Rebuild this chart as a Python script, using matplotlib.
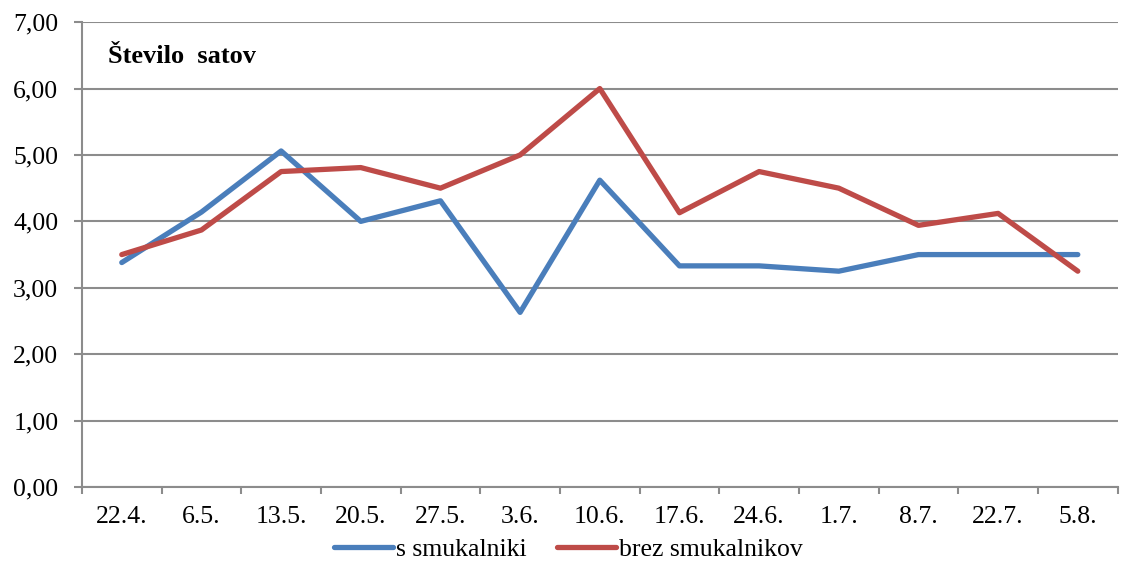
import matplotlib
matplotlib.use("Agg")
import matplotlib.pyplot as plt
from matplotlib.ticker import FixedLocator, FuncFormatter

dates = ["22.4.", "6.5.", "13.5.", "20.5.", "27.5.", "3.6.", "10.6.",
         "17.6.", "24.6.", "1.7.", "8.7.", "22.7.", "5.8."]
s_smukalniki = [3.38, 4.14, 5.06, 4.00, 4.31, 2.63, 4.62,
                3.33, 3.33, 3.25, 3.50, 3.50, 3.50]
brez_smukalnikov = [3.50, 3.87, 4.75, 4.81, 4.50, 5.00, 6.00,
                    4.13, 4.75, 4.50, 3.94, 4.12, 3.25]

plt.rcParams["font.family"] = ["Liberation Serif", "DejaVu Serif"]

fig = plt.figure(figsize=(11.21, 5.67), dpi=100)
ax = fig.add_axes([0.0731, 0.141, 0.9239, 0.820])

x = list(range(len(dates)))
ax.plot(x, s_smukalniki, color="#4a7ebb", lw=3.8, label="s smukalniki",
        solid_joinstyle="round", solid_capstyle="round")
ax.plot(x, brez_smukalnikov, color="#be4b48", lw=3.8, label="brez smukalnikov",
        solid_joinstyle="round", solid_capstyle="round")

ax.set_xlim(-0.5, len(dates) - 0.5)
ax.set_ylim(0, 7)
ax.set_yticks(range(0, 8))
ax.yaxis.set_major_formatter(FuncFormatter(lambda v, p: f"{v:.2f}".replace(".", ",")))
ax.set_xticks(x)
ax.set_xticklabels(dates)
ax.xaxis.set_minor_locator(FixedLocator([i - 0.5 for i in range(len(dates) + 1)]))

ax.grid(axis="y", color="#8c8c8c", lw=1.5)
ax.set_axisbelow(True)
for side in ["top", "right"]:
    ax.spines[side].set_visible(False)
for side in ["left", "bottom"]:
    ax.spines[side].set_color("#8c8c8c")
    ax.spines[side].set_linewidth(1.5)

ax.tick_params(axis="y", length=6, width=1.5, color="#8c8c8c", pad=11, labelsize=18.5)
ax.tick_params(axis="x", which="major", length=0, pad=14, labelsize=18.5)
ax.tick_params(axis="x", which="minor", length=5, width=1.5, color="#8c8c8c")

fig.text(0.0963, 0.889, "Število  satov", fontsize=19, fontweight="bold",
         va="baseline", ha="left")

fig.legend(loc="lower center", bbox_to_anchor=(0.507, -0.03), ncol=2, frameon=False,
           fontsize=18.5, handlelength=2.3, handletextpad=0.1, columnspacing=1.2)

fig.savefig("out.png", dpi=100)
